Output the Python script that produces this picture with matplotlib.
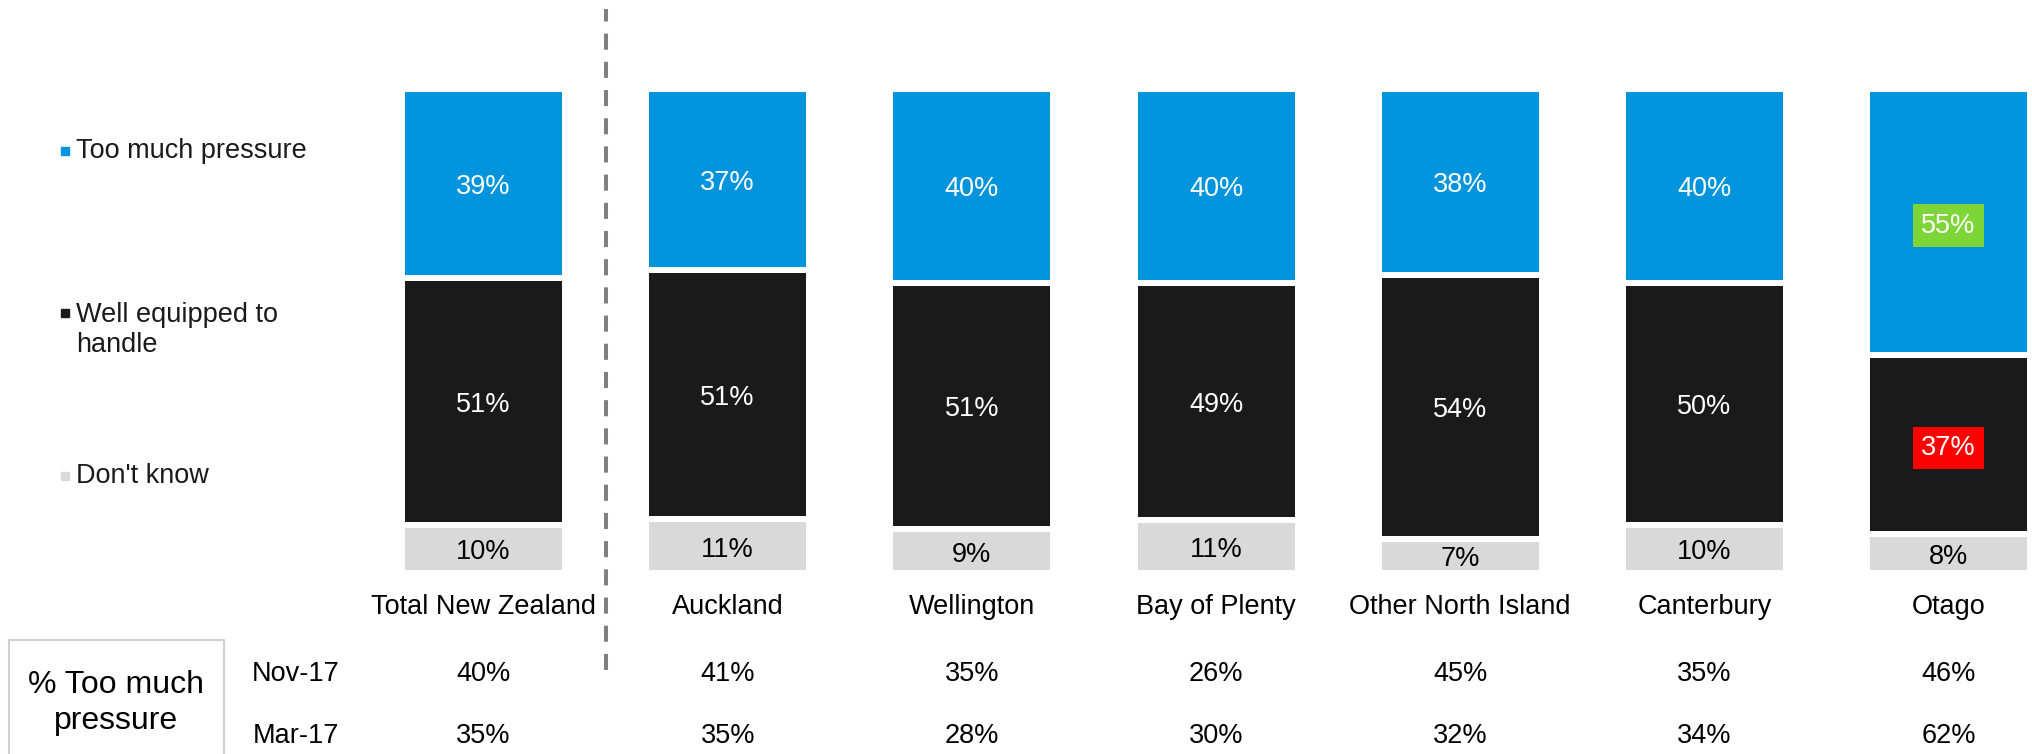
import numpy as np
import matplotlib.pyplot as plt
from matplotlib.transforms import blended_transform_factory

plt.rcParams['font.family'] = ['Liberation Sans', 'DejaVu Sans']

categories = ["Total New Zealand", "Auckland", "Wellington", "Bay of Plenty",
              "Other North Island", "Canterbury", "Otago"]
too_much = [39, 37, 40, 40, 38, 40, 55]
well_equipped = [51, 51, 51, 49, 54, 50, 37]
dont_know = [10, 11, 9, 11, 7, 10, 8]
nov17 = [40, 41, 35, 26, 45, 35, 46]
mar17 = [35, 35, 28, 30, 32, 34, 62]
series_names = ["Too much pressure", "Well equipped to\nhandle", "Don't know"]

blue = "#0094DC"
black = "#1A1A1A"
grey = "#D9D9D9"

W, H = 2033, 754
fig = plt.figure(figsize=(W / 100, H / 100), dpi=100)

# axes placed in pixel terms
y0_px, y1_px = 573, 89
ax = fig.add_axes([0, 1 - y0_px / H, 1, (y0_px - y1_px) / H])
step = 244.17
x0 = 483.5
ax.set_xlim(-x0 / step, (W - x0) / step)
ax.set_ylim(0, 100)
ax.axis("off")

x = np.arange(len(categories))
tot = np.array(too_much) + np.array(well_equipped) + np.array(dont_know)
g = np.array(dont_know) / tot * 100
k = np.array(well_equipped) / tot * 100
b = np.array(too_much) / tot * 100

bw = 163 / step
ax.bar(x, g, bw, color=grey, edgecolor="white", linewidth=4.3)
ax.bar(x, k, bw, bottom=g, color=black, edgecolor="white", linewidth=4.3)
ax.bar(x, b, bw, bottom=g + k, color=blue, edgecolor="white", linewidth=4.3)

fs = 19.5
highlight = {(6, 0): "#7ED538", (6, 1): "#FF0000"}
for i in range(len(categories)):
    segs = [(g[i] + k[i] + b[i] / 2, too_much[i], "white"),
            (g[i] + k[i] / 2, well_equipped[i], "white"),
            (g[i] / 2, dont_know[i], "black")]
    for j, (yc, v, c) in enumerate(segs):
        kw = {}
        if (i, j) in highlight:
            kw["bbox"] = dict(boxstyle="square,pad=0.3", fc=highlight[(i, j)], ec="none")
        ax.annotate(f"{v}%", (x[i], yc), xytext=(0, -2.5), textcoords="offset points",
                    ha="center", va="center", color=c, fontsize=fs, **kw)

# divider
ax.plot([0.5, 0.5], [-0.2 * 100, 1.165 * 100], color="#808080", lw=2.9,
        linestyle=(0, (4, 3)), clip_on=False)

# legend
leg_y = [151, 330, 476]
for name, col, yy in zip(series_names, [blue, black, grey], leg_y):
    first_y = yy - 17 if "\n" in name else yy
    fig.patches.append(plt.Rectangle((61 / W, 1 - (first_y + 4) / H), 8 / W, 8 / H,
                                     transform=fig.transFigure, color=col))
    fig.text(76 / W, 1 - yy / H, name, ha="left", va="center", fontsize=fs,
             color="#1A1A1A", linespacing=1.22)

# category labels and table rows
tr = blended_transform_factory(ax.transData, fig.transFigure)
for i, cat in enumerate(categories):
    ax.text(x[i], 1 - 607 / H, cat, transform=tr, ha="center", va="center", fontsize=fs)
    ax.text(x[i], 1 - 674 / H, f"{nov17[i]}%", transform=tr, ha="center", va="center", fontsize=fs)
    ax.text(x[i], 1 - 736 / H, f"{mar17[i]}%", transform=tr, ha="center", va="center", fontsize=fs)

fig.text(296 / W, 1 - 674 / H, "Nov-17", ha="center", va="center", fontsize=fs)
fig.text(296 / W, 1 - 736 / H, "Mar-17", ha="center", va="center", fontsize=fs)

fig.patches.append(plt.Rectangle((9 / W, -0.05), 215 / W, 0.05 + 1 - 640 / H,
                                 transform=fig.transFigure, fill=False,
                                 edgecolor="#CFCFCF", linewidth=1.5))
fig.text(116 / W, 1 - 703 / H, "% Too much\npressure", ha="center", va="center",
         fontsize=23, linespacing=1.3)

fig.savefig("out.png", dpi=100)
